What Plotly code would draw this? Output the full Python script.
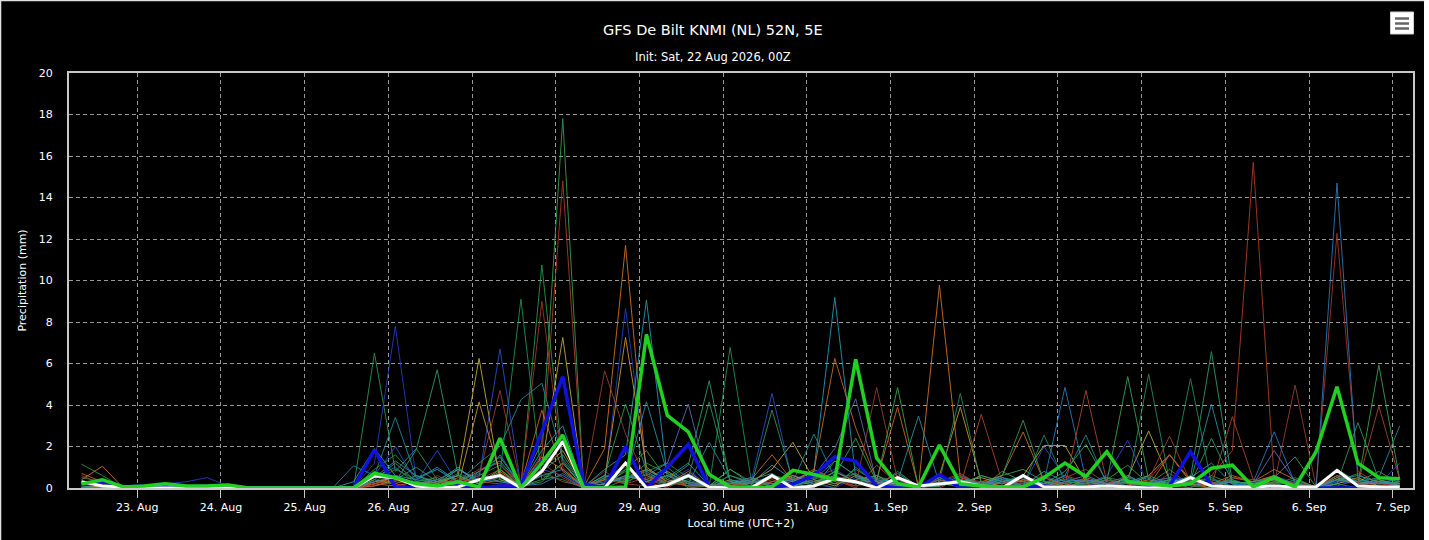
import pandas as pd
import plotly.graph_objects as go

# GFS ensemble, 6-hourly precipitation (mm), first step 22 Aug 08:00 local (UTC+2)
first_step = "2026-08-22 08:00"
n_steps = 64
times = pd.date_range(first_step, periods=n_steps, freq="6h")

# thick lines
green_main = [0.2, 0.4, 0.05, 0.1, 0.2, 0.1, 0.1, 0.15,
              0, 0, 0, 0, 0, 0, 0.7, 0.5,
              0.2, 0.1, 0.3, 0.05, 2.4, 0, 1.2, 2.55,
              0, 0, 0.05, 7.4, 3.5, 2.7, 0.65, 0.05,
              0, 0.05, 0.85, 0.65, 0.4, 6.2, 1.45, 0.2,
              0.05, 2.07, 0.2, 0.1, 0.05, 0.05, 0.5, 1.2,
              0.55, 1.75, 0.3, 0.2, 0.1, 0.2, 0.95, 1.1,
              0.05, 0.5, 0.05, 1.75, 4.88, 1.2, 0.5, 0.45]
blue_main = [0.2, 0.3, 0.05, 0.1, 0.1, 0.05, 0.1, 0.1,
             0, 0, 0, 0, 0, 0, 1.83, 0.05,
             0, 0, 0.1, 0, 0.1, 0.1, 2.7, 5.37,
             0.2, 0, 2.0, 0, 1.0, 2.1, 0.05, 0,
             0, 0, 0.2, 0.6, 1.5, 1.3, 0.1, 0,
             0, 0.65, 0, 0, 0, 0, 0.1, 0,
             0, 0, 0, 0, 0.1, 1.75, 0.1, 0,
             0, 0, 0, 0, 0, 0, 0, 0]
white_main = [0.3, 0.1, 0.05, 0, 0, 0, 0, 0,
              0, 0, 0, 0, 0, 0, 0.58, 0.5,
              0.1, 0, 0.05, 0.4, 0.6, 0, 0.8, 2.25,
              0, 0, 1.2, 0, 0.15, 0.6, 0.05, 0,
              0, 0.6, 0, 0.1, 0.45, 0.3, 0, 0.5,
              0.1, 0.2, 0.3, 0.1, 0, 0.6, 0.05, 0.05,
              0.05, 0.1, 0.05, 0, 0.05, 0.5, 0.1, 0.05,
              0.05, 0.1, 0.05, 0.05, 0.85, 0.1, 0.05, 0.05]

# ensemble members (thin lines)
m01 = [0.3, 0.2, 0, 0.1, 0.1, 0, 0, 0,
       0, 0, 0, 0, 0, 0, 0.4, 1.2,
       0.3, 0.5, 0, 0.8, 1.5, 0.1, 2.2, 17.8,
       0.05, 0, 0.9, 1.8, 0.4, 0.2, 0.1, 0.3,
       0, 0.5, 0.2, 0, 1.3, 0.6, 0, 0.8,
       0.05, 0.4, 0, 0.1, 0.6, 0.9, 0.3, 0.2,
       0, 0.4, 1.1, 0.2, 0, 0.3, 0.5, 0,
       0.2, 0.6, 0.1, 0, 0.4, 0.3, 0.8, 0.2]
m02 = [0.1, 0, 0, 0, 0, 0, 0, 0,
       0, 0, 0, 0, 0, 0, 0.2, 0.6,
       0.1, 0, 0.3, 0.9, 1.2, 0.1, 1.6, 14.8,
       0, 0.5, 1.0, 0.3, 0, 0.6, 0.05, 0,
       0.3, 0.1, 0, 0.8, 0.4, 0, 1.1, 0.2,
       0, 0.3, 0.7, 0.1, 0, 0.2, 0, 0.5,
       0.9, 0.2, 0, 0.4, 0.1, 0, 0.6, 1.8,
       15.7, 0.4, 0.2, 0, 0.6, 0.3, 0.1, 0]
m03 = [1.15, 0.6, 0, 0, 0, 0, 0, 0,
       0, 0, 0, 0, 0, 0, 6.5, 0.8,
       1.9, 0.4, 0.2, 0.6, 1.1, 0.1, 10.75, 1.3,
       0, 0.4, 0.3, 1.2, 0.7, 0, 0.1, 0.9,
       0.2, 0, 0.6, 0.3, 0, 1.0, 0.2, 0.4,
       0, 0.6, 0.2, 0, 0.8, 0.3, 0.1, 0,
       0.3, 0.5, 0, 0.2, 0.9, 0.1, 0, 0.4,
       0, 0.2, 0.5, 0, 0.3, 0.7, 0, 0.2]
m04 = [0, 0, 0, 0, 0, 0, 0, 0,
       0, 0, 0, 0, 0, 0, 0.3, 0.2,
       0, 0.6, 0.1, 0.4, 0.9, 0.2, 9.0, 1.0,
       0.05, 0.8, 0.2, 0.1, 0.6, 0.3, 0, 0.2,
       0.5, 0, 0.1, 0.4, 0.2, 0.7, 0, 0.3,
       0, 0, 0.5, 0.2, 0, 0.3, 0.6, 0.1,
       0, 0.4, 0.2, 0, 0.7, 0.1, 0.3, 0,
       0.2, 0.1, 0, 0.05, 12.27, 0.8, 0.2, 0.1]
m05 = [0.5, 0.3, 0, 0, 0.1, 0, 0, 0,
       0, 0, 0, 0, 0, 0, 0.9, 1.6,
       0.5, 0.2, 0.9, 0.3, 0.7, 9.1, 0.4, 0.6,
       0, 0, 0.4, 0.8, 1.2, 0.5, 0.1, 6.78,
       0.4, 0.1, 0, 0.6, 0.2, 0.9, 0.3, 0,
       0.05, 0.2, 0.1, 0, 0.5, 0.3, 0.2, 0.6,
       0.1, 0, 0.4, 0.2, 0.3, 0, 0.6, 0.2,
       0, 0.3, 0.1, 0, 0.2, 0, 0.5, 0.3]
m06 = [0.4, 1.05, 0, 0, 0, 0, 0, 0,
       0, 0, 0, 0, 0, 0, 0.2, 0.5,
       0.1, 0.3, 0.6, 0.2, 0.8, 0.1, 1.5, 0.9,
       0.05, 1.9, 11.7, 0.6, 0.2, 0.8, 0.1, 0.1,
       0, 0.5, 0.3, 0.9, 0.4, 0.2, 0.6, 0.1,
       0.05, 9.78, 0.5, 0.2, 0, 0.4, 0.1, 0.3,
       0.2, 0, 0.6, 0.1, 0.4, 0.2, 0, 0.5,
       0.3, 0.6, 0.1, 0, 0.5, 0.2, 0.4, 0.1]
m07 = [0.2, 0, 0, 0.1, 0.2, 0.3, 0.5, 0.1,
       0, 0, 0, 0, 0, 0, 1.2, 7.8,
       0.4, 0.9, 0.2, 0.3, 0.6, 0.1, 1.4, 2.3,
       0.1, 0.2, 8.66, 0.7, 0.3, 0.9, 0.05, 0,
       0.4, 0.1, 0.6, 0.2, 0, 0.5, 0.3, 0.1,
       0, 0.2, 0.4, 0, 0.3, 0.1, 0.6, 0.2,
       0.1, 0.3, 0, 0.2, 0.5, 0.4, 0.1, 0,
       0.2, 0.4, 0, 0, 0.3, 0.2, 0, 0.4]
m08 = [0.1, 0, 0, 0, 0, 0, 0, 0,
       0, 0, 0, 0, 0, 0.3, 1.9, 0.6,
       0.4, 1.0, 0.3, 0.8, 1.3, 0.15, 1.8, 3.0,
       0.05, 0.9, 1.6, 9.06, 0.5, 1.2, 0.1, 0.6,
       0.2, 1.1, 0.4, 0.8, 9.19, 0.5, 0.2, 0.7,
       0.05, 0.1, 0.6, 0.2, 0.5, 0.1, 0.8, 0.3,
       0.6, 0.2, 0.4, 0, 0.3, 0.5, 1.2, 0.2,
       0.1, 0.6, 0.2, 0.05, 0.9, 0.3, 0.2, 0.5]
m09 = [0, 0.1, 0, 0, 0, 0, 0, 0,
       0, 0, 0, 0, 0, 0, 0.3, 0.5,
       0.1, 0.2, 0.6, 6.25, 0.4, 0.1, 1.1, 7.26,
       0.05, 0.2, 0.6, 0.3, 0.8, 0.2, 0.1, 0.1,
       0.3, 0.9, 2.2, 0.4, 0.1, 0.6, 0.3, 0.2,
       0.05, 0.1, 0.3, 0.5, 0.2, 0.6, 2.05, 2.05,
       0.3, 0.1, 0.5, 2.75, 0.4, 0.2, 0.1, 0.3,
       0.2, 0.4, 0.1, 0, 0.2, 0.5, 0.1, 0]
m10 = [0, 0, 0, 0, 0, 0, 0, 0,
       0, 0, 0, 0, 0, 0, 0.1, 0.4,
       0.2, 0.3, 0.1, 4.15, 0.7, 0.1, 0.9, 1.8,
       0.1, 0.4, 7.26, 1.0, 0.3, 0.6, 0.05, 0.4,
       0.1, 0.3, 0.6, 0.2, 0.8, 0.3, 0.1, 0.5,
       0.05, 0.6, 3.9, 0.3, 0.1, 0.4, 0.2, 0,
       0.4, 0.2, 0.1, 0.6, 1.6, 0.3, 0.2, 0.1,
       0, 0.3, 0.2, 0, 0.9, 0.2, 0.3, 0.1]
m11 = [0, 0, 0, 0, 0, 0, 0, 0,
       0, 0, 0, 0, 0, 0, 0.6, 2.0,
       0.3, 1.8, 0.2, 0.5, 6.7, 0.1, 0.9, 0.6,
       0, 0.5, 1.1, 0.3, 0.6, 0.2, 0.1, 0.1,
       0.3, 4.56, 0.2, 0.5, 0.9, 0.3, 0.1, 0.4,
       0, 0.3, 0.6, 0.2, 0.4, 0.1, 2.0, 0.5,
       0.2, 0.6, 2.3, 0.1, 0.3, 0.4, 0.2, 0,
       0.1, 0.5, 0.2, 0, 0.3, 0.4, 0.2, 1.2]
m12 = [0.7, 0.3, 0, 0, 0, 0, 0, 0,
       0, 0, 0, 0, 0, 0, 0.2, 0.1,
       0.3, 0.1, 0.5, 0.2, 0.6, 0.2, 3.75, 0.8,
       0.05, 0.2, 0.5, 0.9, 0.3, 0.1, 0.15, 0.2,
       0.4, 1.6, 0.3, 0.8, 6.25, 2.9, 0.4, 3.9,
       0.05, 0.5, 0.1, 0.3, 0.6, 2.7, 0.3, 0.1,
       0.5, 0.2, 0.3, 0.1, 1.6, 0.4, 0.2, 0.6,
       0.3, 0.9, 0.4, 0.05, 0.8, 0.1, 0.3, 0.2]
m13 = [0, 0, 0, 0, 0, 0, 0, 0,
       0, 0, 0, 0, 0, 0, 0.7, 0.3,
       1.85, 5.7, 0.6, 0.2, 0.9, 0.05, 0.8, 1.6,
       0.05, 0.6, 0.2, 0.9, 0.4, 1.1, 5.17, 0.3,
       0.2, 0.6, 0.4, 0.1, 0.8, 0.3, 0.5, 0.2,
       0, 0.4, 0.2, 0.6, 0.3, 0.1, 0.5, 0.2,
       0.4, 0.1, 0.3, 0.6, 0.2, 0.5, 6.57, 0.3,
       0.2, 0.4, 0.1, 0, 0.5, 0.2, 0.4, 0.1]
m14 = [0.6, 0.2, 0, 0, 0, 0, 0, 0,
       0, 0, 0, 0, 0, 0, 0.2, 0.4,
       0.1, 0.3, 0.2, 0.6, 4.7, 0.1, 1.2, 0.5,
       0, 5.65, 2.6, 0.4, 0.1, 0.3, 0.1, 0.2,
       0.1, 0.4, 0.2, 0.6, 0.3, 0.1, 4.85, 0.4,
       0.05, 0.1, 0.5, 0.3, 0.2, 0.4, 0.1, 0.6,
       0.3, 0.2, 0.1, 0.4, 2.5, 0.3, 0.1, 0.5,
       0.4, 0.2, 4.96, 0.05, 0.6, 0.2, 0.1, 0.3]
m15 = [0, 0, 0, 0, 0, 0, 0, 0,
       0, 0, 0, 0, 0, 0, 0.5, 1.0,
       0.2, 0.4, 0.9, 0.3, 1.6, 0.1, 0.2, 0.7,
       0.05, 0.1, 0.6, 0.4, 0.2, 0.7, 0.1, 0.3,
       0.5, 0.2, 0.1, 0.4, 1.3, 0.6, 0.2, 0.1,
       0.05, 0.1, 0.4, 0.2, 0.5, 0.1, 0.3, 4.85,
       0.4, 0.2, 0.6, 0.1, 0.3, 0.2, 0.4, 0.1,
       0.3, 2.71, 0.2, 0, 14.7, 0.4, 0.2, 0.3]
m16 = [0, 0, 0, 0, 0, 0, 0, 0,
       0, 0, 0, 0, 0, 0, 0.4, 0.2,
       0.6, 0.3, 1.0, 0.2, 0.4, 0.1, 0.3, 1.2,
       0.05, 0.2, 0.8, 0.3, 0.6, 0.1, 0.1, 0.9,
       0.3, 0.1, 0.5, 0.2, 0.6, 2.4, 0.3, 4.85,
       0.05, 0.2, 0.1, 0.6, 0.3, 0.5, 0.2, 0.8,
       2.1, 0.3, 5.37, 0.4, 0.2, 0.6, 0.1, 0.3,
       0.2, 0.5, 1.5, 0.05, 0.4, 0.2, 5.93, 0.4]
m17 = [0, 0, 0, 0, 0, 0, 0, 0,
       0, 0, 0, 0, 0, 0, 0.3, 0.9,
       0.4, 0.2, 0.7, 0.3, 0.5, 0.05, 0.6, 0.4,
       0, 0.5, 0.3, 0.7, 0.1, 0.4, 0.05, 0.6,
       0.3, 0.2, 0.5, 0.1, 0.4, 0.7, 0.2, 0.3,
       0, 0.3, 4.56, 0.2, 0.4, 0.1, 2.55, 0.3,
       0.2, 0.4, 0.1, 5.5, 0.3, 5.28, 0.2, 0.4,
       0.1, 0.3, 0.2, 0.05, 0.1, 0.4, 0.2, 0.3]
m18 = [0, 0, 0, 0, 0, 0, 0, 0,
       0, 0, 0, 0, 0, 1.07, 0.6, 3.4,
       0.5, 0.9, 0.3, 1.2, 2.0, 4.25, 5.05, 1.4,
       0.1, 0.3, 0.9, 0.4, 1.0, 0.2, 2.2, 0.4,
       0.2, 0.6, 0.3, 2.6, 0.5, 0.2, 0.4, 0.1,
       0.05, 0.5, 0.2, 0.1, 0.4, 0.3, 0.1, 0.6,
       2.55, 0.2, 0.3, 0.5, 0.1, 0.4, 0.2, 0.3,
       0.2, 0.1, 0.4, 0, 0.6, 0.3, 0.5, 3.0]
m19 = [0, 0, 0, 0, 0, 0, 0, 0,
       0, 0, 0, 0, 0, 0, 0.3, 0.6,
       0.2, 0.4, 0.1, 0.7, 0.3, 0.1, 0.9, 2.6,
       0.05, 0.2, 0.5, 0.6, 1.2, 4.05, 0.1, 0.1,
       0.3, 0.2, 0.4, 0.6, 1.9, 4.3, 0.3, 0.1,
       0.05, 0.4, 0.1, 0.3, 0.2, 0.5, 0.1, 0.3,
       0.4, 0.2, 0.1, 0.3, 0.5, 0.2, 0.1, 0.3,
       0.2, 1.8, 0.3, 0, 0.4, 0.2, 0.3, 0.1]
m20 = [0, 0, 0, 0, 0, 0, 0, 0,
       0, 0, 0, 0, 0, 0, 0.1, 0.3,
       0.2, 0.1, 0.4, 0.3, 0.2, 0.1, 0.8, 0.3,
       0.1, 0.4, 0.2, 0.5, 0.3, 0.1, 0.1, 0.2,
       0.1, 0.3, 0.5, 0.2, 0.4, 0.1, 0.3, 0.6,
       0, 0.4, 0.1, 3.55, 0.3, 0.2, 0.5, 0.1,
       4.7, 0.3, 0.2, 0.4, 1.6, 0.3, 0.1, 3.44,
       0.4, 0.2, 0.3, 0, 0.6, 0.2, 3.95, 0.4]
m21 = [0, 0, 0, 0, 0, 0, 0, 0,
       0, 0, 0, 0, 0, 0, 0.5, 1.3,
       0.6, 0.2, 0.9, 0.4, 0.3, 0.2, 0.6, 0.9,
       0.05, 0.6, 0.4, 4.16, 0.7, 0.3, 0.1, 0.2,
       0.4, 0.7, 0.1, 0.3, 0.6, 0.2, 0.4, 0.3,
       3.47, 0.2, 0.4, 0.1, 0.3, 0.6, 0.2, 0.4,
       0.3, 0.1, 0.5, 0.2, 0.4, 0.3, 4.05, 0.2,
       0.3, 0.5, 0.1, 0, 0.4, 0.6, 0.3, 0.2]
m22 = [0, 0, 0, 0, 0, 0, 0, 0,
       0, 0, 0, 0, 0, 0, 0.8, 0.4,
       1.0, 0.3, 0.6, 0.2, 0.9, 0.1, 0.4, 1.2,
       0.05, 0.6, 4.05, 0.8, 0.2, 0.5, 4.15, 0.3,
       0.1, 3.76, 0.3, 0.5, 0.2, 0.4, 0.6, 0.2,
       0.05, 0.1, 0.4, 0.2, 0.6, 3.27, 0.3, 0.1,
       0.2, 0.5, 0.3, 0.1, 0.4, 0.2, 2.4, 0.3,
       0.2, 0.4, 0.1, 0, 0.2, 3.15, 0.4, 0.2]

members = [m01, m02, m03, m04, m05, m06, m07, m08, m09, m10, m11,
           m12, m13, m14, m15, m16, m17, m18, m19, m20, m21, m22]
member_colors = ["#3aa655", "#b5402a", "#2e9e4f", "#a83a28", "#229955", "#d9782a",
                 "#2a3fc8", "#2aa0b8", "#c9b23a", "#d4a030", "#3050d0", "#d0702a",
                 "#35a070", "#a04030", "#2f7fc0", "#40a850", "#2a9060", "#2090a0",
                 "#6070b8", "#b04a30", "#2a98a8", "#30a060"]

# plot area in pixels (left, top, right, bottom) - used to place the decorations
L, T, R, B = 69, 73, 1413.5, 488
FONT = "DejaVu Sans"


def px(x):
    return (x - L) / (R - L)


def py(y):
    return (B - y) / (B - T)


fig = go.Figure()

for vals, col in zip(members, member_colors):
    fig.add_trace(go.Scatter(x=times, y=vals, mode="lines",
                             line=dict(color=col, width=1), opacity=0.85,
                             hoverinfo="skip"))

fig.add_trace(go.Scatter(x=times, y=blue_main, mode="lines",
                         line=dict(color="#1010e0", width=3.5)))
fig.add_trace(go.Scatter(x=times, y=white_main, mode="lines",
                         line=dict(color="#ffffff", width=3)))
fig.add_trace(go.Scatter(x=times, y=green_main, mode="lines",
                         line=dict(color="#22d022", width=3.5)))

fig.update_layout(
    width=1429, height=540,
    margin=dict(l=L, r=1429 - R, t=T, b=540 - B),
    paper_bgcolor="#000000", plot_bgcolor="#000000",
    showlegend=False,
    font=dict(family=FONT, color="#ffffff", size=11),
)

fig.update_xaxes(
    range=["2026-08-22 04:25", "2026-09-07 05:48"],
    tick0="2026-08-23", dtick=86400000, tickformat="%-d. %b",
    showgrid=True, gridcolor="#9a9a9a", gridwidth=1, griddash="4px,3px",
    showline=True, linecolor="#c8c8c8", linewidth=2, mirror=True,
    ticks="outside", ticklen=8, tickcolor="#c8c8c8",
    tickfont=dict(size=11, color="#ffffff"),
    title=dict(text="Local time (UTC+2)", font=dict(size=11, color="#ffffff"), standoff=6),
    zeroline=False,
)
fig.update_yaxes(
    range=[0, 20], dtick=2,
    showgrid=True, gridcolor="#9a9a9a", gridwidth=1, griddash="4px,3px",
    showline=True, linecolor="#c8c8c8", linewidth=2, mirror=True,
    ticks="", ticklabelstandoff=12,
    tickfont=dict(size=11, color="#ffffff"),
    title=dict(text="Precipitation (mm)", font=dict(size=11, color="#ffffff"), standoff=10),
    zeroline=False,
)

fig.add_annotation(text="GFS De Bilt KNMI (NL) 52N, 5E", xref="paper", yref="paper",
                   x=px(713.5), y=py(20), showarrow=False,
                   font=dict(size=14.5, color="#ffffff"))
fig.add_annotation(text="Init: Sat, 22 Aug 2026, 00Z", xref="paper", yref="paper",
                   x=px(713), y=py(47.5), showarrow=False,
                   font=dict(size=11.5, color="#ffffff"))

# page edge and export-menu button
shapes = [
    dict(type="rect", xref="paper", yref="paper", x0=px(1424.5), x1=px(1431),
         y0=py(542), y1=py(-2), fillcolor="#ffffff", line=dict(width=0)),
    dict(type="line", xref="paper", yref="paper", x0=px(0), x1=px(1425),
         y0=py(0.5), y1=py(0.5), line=dict(color="#e0e0e0", width=1.5)),
    dict(type="line", xref="paper", yref="paper", x0=px(0.5), x1=px(0.5),
         y0=py(0), y1=py(540), line=dict(color="#e0e0e0", width=1.5)),
    dict(type="rect", xref="paper", yref="paper", x0=px(1391), x1=px(1414),
         y0=py(34), y1=py(12), fillcolor="#ffffff", line=dict(color="#d0d0d0", width=1)),
]
for yy in (18.5, 23.5, 28.5):
    shapes.append(dict(type="line", xref="paper", yref="paper", x0=px(1395.5), x1=px(1409.5),
                       y0=py(yy), y1=py(yy), line=dict(color="#666666", width=2.5)))
fig.update_layout(shapes=shapes)

fig.write_html("out.html", config={"displayModeBar": False},
               post_script="document.body.style.margin = '0';")
